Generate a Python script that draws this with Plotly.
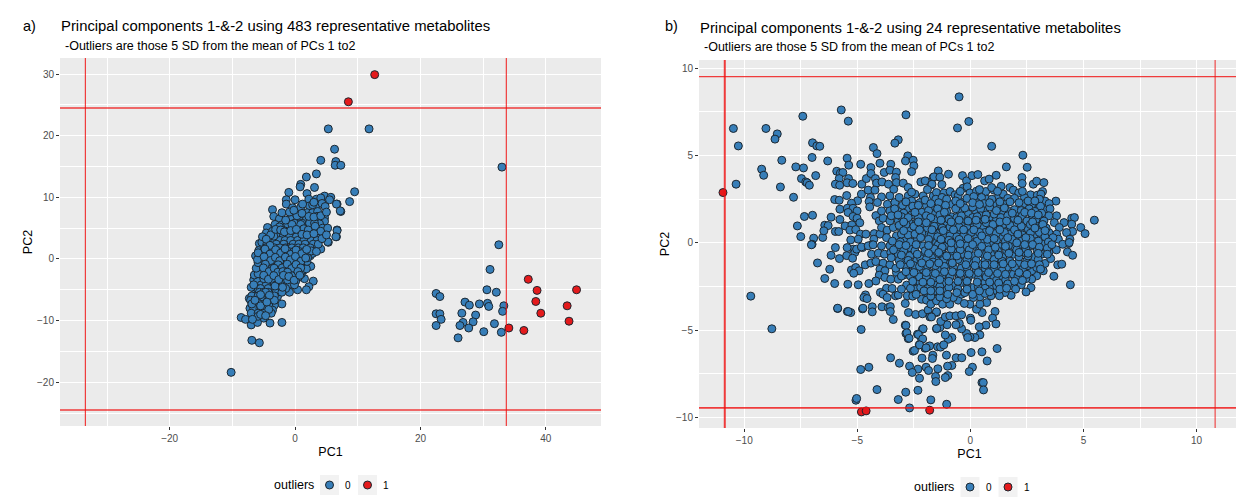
import plotly.graph_objects as go

a_normal = [
(5.3,21.1),(6.3,17.8),(4.1,16.0),(6.5,15.8),(6.4,15.2),(7.3,15.2),(3.4,13.8),(1.8,13.3),(0.9,12.1),(0.8,11.7),(3.1,11.6),(-1.0,10.8),(1.9,10.6),
(9.5,10.9),(8.7,9.3),(7.3,7.7),(6.7,8.9),(6.7,4.7),(6.6,3.6),(5.3,2.7),(11.8,21.1),(33.0,14.9),(32.5,2.3),
(-1.4,9.6),(0,9.6),(2.2,9.7),(3.4,9.7),(4.7,10.2),(5.7,10.0),(4.1,9.9),(5.5,9.6),(6.6,8.9),(7.2,7.8),(-1.4,8.9),(-0.4,8.3),(0.9,8.4),(2.3,8.6),(3.5,8.8),(4.3,9.0),
(-3.6,8.0),(-3.4,6.9),(-2.5,6.5),(-2.1,7.5),(-0.6,7.1),(-0.9,7.6),(1.9,7.5),(2.8,7.5),(3.6,7.7),(4.7,6.7),(-0.6,6.4),(0.8,6.2),(1.8,6.4),(2.6,6.3),(3.5,6.9),(4.7,6.1),(3.9,5.7),
(0.4,5.4),(-0.1,5.2),(-1.7,5.2),(-0.8,4.9),(1.8,5.2),(2.8,5.0),(3.6,4.8),(-4.4,5.1),(-4.6,4.2),(-3.6,4.5),(-2.8,4.4),(-2.2,3.8),(-1.2,4.0),(-0.1,4.3),(0.7,4.5),(1.5,4.2),(2.6,4.5),(4.4,5.0),(6.7,4.6),(6.5,3.6),(4.7,4.1),(3.8,3.9),
(5.2,2.8),(4.1,1.6),(3.2,2.3),(-5.7,2.5),(-5.3,2.7),(-5.8,1.35),(-6.3,0.5),(-4.9,1.0),(-3.8,1.35),(-3.6,2.5),(-2.4,3.7),(-1.3,3.2),(-2.2,2.3),(-1.2,1.5),(-0.1,1.7),(0.85,2.9),(1.0,1.7),(2.1,3.6),(2.1,2.0),(3.1,2.2),(2.4,0.5),(2.8,0.9),
(0.95,-0.8),(2.4,-1.2),(-4.9,-1.0),(-4.8,-0.2),(-3.6,-1.2),(-2.6,0),(-1.7,-0.4),(-0.6,0.1),(-1.0,-2.2),(0.3,-2.7),(-3.6,-2.5),(-4.7,-2.3),(-6.6,-3.4),(-5.7,-3.4),(-4.9,-3.6),(-3.8,-4.2),(-2.6,-3.6),(-1.7,-4.2),(-0.6,-4.2),(1.5,-3.2),(2.9,-3.6),(2.2,-4.5),(1.8,-5.0),(0.4,-5.0),(-0.9,-5.4),(-2.2,-5.0),(-3.6,-5.3),(-4.9,-4.9),(-6.1,-4.4),(-6.3,-5.4),(-7.3,-6.4),(-6.6,-6.1),(-5.2,-6.4),(-3.8,-6.6),(-2.8,-6.1),(-2.1,-7.3),(-3.3,-7.5),(-4.2,-7.5),(-5.4,-8.2),(-6.2,-7.5),(-7.2,-8.0),(-3.6,-8.3),(-5.0,-9.6),(-6.5,-9.5),(-7.0,-10.7),(-6.0,-10.3),(-8.6,-9.5),(-7.9,-9.8),(-4.0,-10.4),(-2.1,-10.3),(-6.9,-13.2),(-5.7,-13.6),(-10.2,-18.4),(2.5,-1.2),
(-3.6,3.6),(-2.9,3.6),(-1.9,3.6),(-0.9,3.6),(0.2,3.6),(1.2,3.6),(3.0,3.6),(3.8,3.6),
(-4.2,3.0),(-3.2,3.0),(-2.4,3.0),(-1.6,3.0),(-0.7,3.0),(0.4,3.0),(1.4,3.0),(2.6,3.0),(3.5,3.0),
(-4.5,2.4),(-3.0,2.4),(-1.8,2.4),(-0.3,2.4),(0.6,2.4),(1.6,2.4),(2.9,2.4),(3.7,2.4),
(-4.7,1.8),(-3.3,1.8),(-2.4,1.8),(-1.5,1.8),(-0.5,1.8),(0.5,1.8),(1.3,1.8),(2.4,1.8),
(-5.1,1.2),(-4.3,1.2),(-3.5,1.2),(-2.7,1.2),(-1.9,1.2),(-1.0,1.2),(-0.2,1.2),(0.7,1.2),(1.5,1.2),(2.2,1.2),
(-5.4,0.6),(-4.6,0.6),(-3.7,0.6),(-3.0,0.6),(-2.2,0.6),(-1.4,0.6),(-0.6,0.6),(0.3,0.6),(1.1,0.6),(1.9,0.6),
(-5.1,0),(-4.2,0),(-3.4,0),(-2.7,0),(-1.9,0),(-1.1,0),(-0.3,0),(0.6,0),(1.3,0),
(-5.2,-0.6),(-4.4,-0.6),(-3.8,-0.6),(-3.0,-0.6),(-2.3,-0.6),(-1.5,-0.6),(-0.8,-0.6),(-0.1,-0.6),(0.7,-0.6),(1.5,-0.6),
(-5.3,-1.2),(-4.4,-1.2),(-3.0,-1.2),(-2.4,-1.2),(-1.7,-1.2),(-1.0,-1.2),(-0.3,-1.2),(0.4,-1.2),(1.1,-1.2),
(-5.5,-1.8),(-4.5,-1.8),(-3.8,-1.8),(-3.1,-1.8),(-2.4,-1.8),(-1.6,-1.8),(-0.9,-1.8),(-0.2,-1.8),(0.6,-1.8),(1.4,-1.8),
(-5.4,-2.4),(-4.6,-2.4),(-4.0,-2.4),(-3.2,-2.4),(-2.5,-2.4),(-1.6,-2.4),(-0.6,-2.4),(0.2,-2.4),(1.0,-2.4),
(-5.5,-3.0),(-4.4,-3.0),(-3.7,-3.0),(-3.0,-3.0),(-2.2,-3.0),(-1.3,-3.0),(-0.4,-3.0),(0.5,-3.0),
(-6.0,-3.6),(-4.2,-3.6),(-3.4,-3.6),(-1.9,-3.6),(-1.0,-3.6),(0.1,-3.6),
(-5.4,-4.2),(-4.6,-4.2),(-3.0,-4.2),(-2.4,-4.2),(-1.1,-4.2),(-0.1,-4.2),
(-6.0,-4.8),(-5.5,-4.8),(-4.3,-4.8),(-3.2,-4.8),(-2.7,-4.8),(-1.5,-4.8),
(-5.7,-5.4),(-5.0,-5.4),(-4.3,-5.4),(-3.0,-5.4),(-2.1,-5.4),
(-6.9,-6.0),(-5.9,-6.0),(-4.7,-6.0),(-3.3,-6.0),
(-7.1,-6.7),(-6.0,-6.7),(-5.0,-6.7),(-4.3,-6.7),(-3.3,-6.7),
(-6.8,-7.3),(-5.7,-7.3),(-4.8,-7.3),(-6.6,-8.0),(-5.6,-8.0),(-4.6,-8.0),
(-7.0,-8.8),(-5.9,-8.8),(-4.9,-8.8),(-3.8,-8.8),
(-1.3,5.8),(-0.1,5.8),(1.1,5.8),(2.3,5.8),(3.1,5.8),(-2.2,5.5),(-3.1,5.4),(-3.4,3.7),
(-3.2,5.6),(-2.5,5.2),(-1.2,5.7),(-0.5,5.6),(0.9,5.6),(1.4,4.9),(2.1,4.7),(3.2,5.3),(4.1,4.5),(5.2,5.0),(-3.9,3.9),(-3.1,4.8),(-2.3,4.7),(-1.7,4.4),(-0.7,4.6),(0.2,4.8),(1.1,4.0),(1.9,3.9),(3.0,4.1),(4.3,3.3),(5.0,3.9),(-5.2,3.6),(-4.6,3.2),(-4.0,2.2),
(0.3,7.0),(1.1,7.4),(2.2,6.9),(3.0,6.8),(4.1,7.0),(1.2,8.9),(2.8,8.8),(4.8,8.5),(3.0,9.2),(5.0,7.6),(-1.5,6.3),(-0.2,7.9),
(-7.0,-4.6),(-6.9,-7.3),(-6.6,-4.2),(-6.5,-2.6),(-5.9,-2.4),(-5.0,-3.2),(-6.2,-1.5),(-5.9,-0.6),(-5.6,0.1),(-6.0,-0.1),(-5.9,1.0),(-4.7,-5.4),(-4.1,-5.9),(-5.5,-5.8),(-6.4,-6.7),(-5.5,-7.6),(-4.5,-7.0),(-5.9,-9.3),(-6.8,-9.8),(-5.5,-9.0),(-4.2,-8.2),(-4.7,-9.2),(-3.2,-4.4),(-2.0,-4.6),(-1.2,-3.4),(-0.3,-3.1),(0.9,-2.2),(1.8,-1.6),(1.9,-0.4),(2.0,0.2),(2.6,1.3),(3.4,1.2),
(-4.8,1.6),(-4.0,0.8),(-3.1,1.5),(-2.3,0.95),(-1.6,1.65),(-0.7,0.75),(0.15,1.45),(1.05,0.85),(1.85,1.55),(-4.95,0.35),(-3.9,-0.25),(-3.15,0.25),(-2.45,-0.3),(-1.55,0.3),(-0.75,-0.15),(0.05,0.4),(0.95,-0.35),(1.7,0.15),
(-4.75,-0.85),(-3.65,-1.55),(-2.7,-0.95),(-2.05,-1.45),(-1.25,-0.85),(-0.55,-1.55),(0.15,-0.9),(0.9,-1.45),(-5.05,-1.45),(-4.15,-2.05),(-3.35,-1.5),(-2.75,-2.15),(-1.95,-2.05),(-1.2,-2.15),(-0.45,-2.75),(0.45,-2.05),(-5.0,-2.65),(-4.25,-3.3),(-3.4,-2.7),(-2.6,-3.35),(-1.85,-2.65),(-1.0,-2.85),(-0.15,-3.45),(0.75,-2.65),
(31.1,-1.7),(30.6,-5.0),(32.1,-5.4),(22.5,-5.6),(23.1,-6.1),(27.1,-7.0),(27.8,-7.5),(29.4,-7.3),(30.7,-7.2),(30.9,-7.7),(33.3,-7.6),(33.1,-8.5),(22.5,-8.9),(23.1,-8.9),(23.3,-9.8),(26.6,-8.8),(28.8,-9.1),(22.5,-10.8),(26.8,-10.3),(26.3,-10.8),(28.4,-10.2),(27.7,-11.2),(31.8,-10.5),(30.1,-11.8),(32.9,-11.9),(26.0,-12.8),
]
a_outlier = [(12.7,29.9),(8.5,25.5),(34.1,-11.2),(36.5,-11.6),(37.2,-3.3),(38.6,-5.1),(38.4,-6.9),(39.2,-8.8),(44.9,-5.0),(43.4,-7.6),(43.7,-10.1)]
b_normal = [
(-10.48,6.55),(-10.26,5.55),(-10.36,3.36),(-9.04,6.55),(-8.54,6.24),(-8.64,5.94),(-8.34,4.73),(-9.23,4.22),(-9.14,3.87),(-8.4,3.2),(-7.82,2.61),(-7.41,7.25),(-5.71,7.61),(-5.4,6.97),(-2.85,7.33),(-0.5,8.36),(-0.57,6.58),(-0.07,6.95),(-3.19,5.9),(-3.34,5.71),(-4.29,5.46),(-4.13,5.11),(-6.98,5.73),(-6.79,5.55),(-6.66,5.53),(-7.0,4.89),(-6.31,4.69),
(-7.72,4.35),(-7.38,4.29),(-7.47,3.68),(-7.28,3.49),(-7.22,3.44),(-7.12,3.3),(-6.84,3.85),(-7.34,1.51),(-6.98,1.58),(-7.65,0.97),(-7.5,0.36),(-6.93,0.27),(-6.53,0.31),(-7.0,-0.08),
(-5.45,4.85),(-5.38,4.45),(-4.85,4.5),(-4.4,4.31),(-4.0,4.56),(-3.52,4.5),(-2.77,4.98),(-2.87,4.69),(-2.53,4.73),(-2.5,4.41),(-2.6,4.08),(-5.91,4.1),(-5.75,3.99),(-5.64,4.03),(-5.8,3.68),(-5.97,3.36),(-5.78,3.3),(-5.39,3.68),(-5.45,3.44),(-5.2,3.4),(-4.8,3.36),(-4.6,3.68),(-4.4,3.97),(-4.2,3.68),(-4.15,3.42),(-3.81,4.03),(-3.56,4.16),(-3.27,4.05),(-3.31,3.74),(-3.91,3.49),(-3.62,3.36),(-3.27,3.45),(-2.97,3.42),(-3.39,3.07),(-2.75,3.17),(-2.19,3.49),(-2.0,3.55),(-1.65,3.74),(-1.42,3.84),(-1.72,3.32),
(-5.47,2.71),(-6.0,2.48),(-5.8,2.44),(-4.99,2.41),(-4.82,2.79),(-4.52,3.02),(-4.22,3.02),(-3.93,2.63),(-3.56,2.69),(-4.42,2.6),(-4.48,2.37),(-5.26,2.27),(-5.77,1.93),(-5.44,1.98),(-5.19,1.98),(-5.41,1.74),(-5.01,1.83),(-4.45,2.06),(-4.11,2.31),(-3.67,2.21),(-3.34,2.31),(-3.15,2.6),(-2.75,2.69),(-2.45,2.79),(-2.09,2.69),(-1.64,2.69),
(-6.16,1.47),(-5.77,1.34),(-5.19,1.51),(-5.01,1.41),(-4.89,1.15),(-4.18,1.56),(-4.03,1.26),(-3.86,1.41),(-6.44,1.01),(-6.29,0.99),(-6.48,0.69),(-5.97,0.65),(-5.82,0.65),(-5.54,0.97),(-5.24,1.03),(-5.33,0.73),(-5.07,0.76),(-4.86,0.5),(-4.96,0.21),(-5.29,0.17),(-4.62,0.5),(-4.25,0.53),(-4.0,0.5),(-4.27,0.21),(-3.93,0.88),(-3.68,0.73),(-3.41,0.88),(-3.19,1.26),(-2.9,1.35),(-2.7,1.16),(-2.38,1.16),(-3.56,1.26),(-3.05,0.78),(-2.68,0.69),(-2.38,0.78),(-2.09,1.35),(-1.79,1.16),(-1.5,1.26),(-1.5,0.69),(-3.27,0.4),(-3.71,0.3),(-2.9,0.21),(-2.38,0.11),(-1.94,0.5),
(-5.97,-0.27),(-5.18,-0.36),(-4.77,-0.27),(-4.36,-0.11),(-3.93,-0.17),(-3.56,-0.17),(-3.19,-0.27),(-2.68,-0.27),(-2.09,-0.17),(-1.64,-0.08),(-2.23,2.31),(-2.38,1.93),(-1.94,2.12),(-1.64,1.93),(-2.82,1.93),(-3.19,1.83),(-3.56,1.83),(-3.93,1.83),
(0.94,5.53),(2.32,5.02),(1.59,4.35),(2.51,4.33),(-1.42,4.12),(-0.97,3.93),(-1.61,3.78),(-1.35,3.76),(-1.26,3.34),(-1.7,3.36),(-0.35,3.85),(-0.17,3.55),(0.07,3.85),(0.33,3.91),(0.63,3.55),(0.83,3.65),(1.14,3.87),(2.28,3.74),(2.29,3.4),(1.36,3.24),(1.75,3.17),(2.78,3.36),(2.93,3.53),(3.25,3.45),(3.19,2.94),(-0.32,3.13),(-0.14,3.21),(-1.5,2.88),(-1.17,2.86),(-0.9,2.94),(-0.68,2.75),(-0.02,2.86),(0.27,2.96),(0.68,2.94),(1.04,3.02),(0.94,3.17),(1.9,3.02),(2.14,2.86),(2.66,2.75),(2.96,2.73),(3.12,2.79),(3.78,2.39),(3.3,2.39),(2.39,2.6),(2.41,2.25),(2.96,2.25),(3.3,1.89),(3.48,2.25),(3.52,1.95),(3.81,1.55),(3.71,1.16),(3.47,1.55),(4.48,1.41),(4.6,1.45),(5.48,1.3),(4.14,1.16),(4.48,1.07),(4.88,0.88),(5.07,0.53),(4.52,0.65),(4.25,0.59),(3.93,0.88),(3.81,0.5),(3.47,0.59),(4.4,0.21),(4.34,-0.04),(3.89,0.21),(3.3,-0.17),(4.08,-0.08),(3.15,0.97),(2.85,1.11),(3.07,1.45),(2.71,1.41),(2.41,1.07),(2.07,1.64),(1.77,1.3),(1.75,1.79),(1.42,1.74),(1.23,2.02),(1.01,2.21),(1.23,2.6),(1.45,2.79),(0.72,2.5),(0.49,2.6),(0.27,2.31),(-0.32,2.31),(-0.54,2.69),(-0.83,2.21),(-1.23,2.06),(-1.53,2.5),(-1.72,2.12),(-0.47,1.74),(-0.83,1.49),(-1.2,1.45),(-1.57,1.64),(-0.09,1.64),(0.27,1.74),(0.64,1.83),(0.86,1.49),(1.16,1.35),(0.42,1.3),(0.05,1.16),(-0.32,1.07),(-0.69,1.16),(-1.05,1.07),(-1.42,1.16),(-1.72,1.07),(0.86,0.97),(0.54,0.88),(0.13,0.88),(1.23,0.78),(1.63,0.73),(2.04,1.07),(2.19,0.69),(2.56,0.78),(2.85,0.5),(3.15,0.31),(2.49,0.11),(2.04,0.31),(1.75,0.5),(1.38,0.34),(1.01,0.5),(0.64,0.59),(0.27,0.4),(-0.17,0.59),(-0.47,0.69),(-0.76,0.59),(-1.05,0.59),(-1.35,0.59),(-1.64,0.59),(0.57,0.02),(0.05,0.02),(-0.32,0.11),(-0.76,0.11),(-1.13,0.02),(-1.5,0.02),(0.94,-0.08),(1.38,-0.17),(1.9,-0.17),(2.85,-0.17),
(-7.03,-0.11),(-5.45,-0.27),(-5.11,-0.55),(-5.03,-0.36),(-4.82,-0.23),(-4.52,-0.17),(-4.3,-0.11),(-6.16,-0.71),(-5.79,-0.9),(-5.47,-0.73),(-5.21,-0.88),(-6.76,-1.15),(-6.22,-1.51),(-6.44,-2.04),(-6.0,-2.33),(-5.42,-2.37),(-4.96,-2.4),(-4.49,-2.33),(-5.26,-1.55),(-5.07,-1.41),(-4.92,-1.6),(-5.16,-1.74),(-4.65,-1.26),(-4.4,-1.16),(-4.18,-1.07),(-4.37,-0.65),(-4.07,-0.59),(-3.8,-0.65),(-3.52,-0.55),(-3.19,-0.65),(-3.86,-1.16),(-3.56,-1.26),(-4.0,-1.51),(-3.78,-1.6),(-4.03,-1.85),(-4.18,-2.18),(-3.78,-1.98),(-3.52,-2.08),(-3.71,-2.6),(-3.46,-2.61),(-3.98,-2.84),(-3.86,-2.94),(-3.68,-3.13),(-3.31,-3.03),(-3.19,-2.98),(-2.79,-3.03),(-4.64,-2.98),(-4.71,-3.13),(-4.57,-3.19),(-5.87,-3.76),(-5.44,-3.93),(-5.29,-3.99),(-4.77,-3.78),(-4.34,-3.66),(-4.34,-3.95),(-3.91,-3.66),(-3.63,-3.7),(-3.54,-3.65),(-3.54,-3.93),(-3.41,-4.39),(-4.83,-4.96),(-8.78,-4.92),(-9.71,-3.05),(-2.88,-3.47),(-2.74,-3.99),(-2.42,-4.1),(-2.12,-4.06),(-1.87,-3.85),(-1.79,-4.24),(-1.5,-3.99),(-2.88,-4.71),(-2.85,-5.19),(-2.75,-5.48),(-2.12,-4.94),(-2.34,-5.23),(-2.16,-5.52),(-1.5,-4.92),(-2.53,-6.2),(-2.26,-5.84),(-2.01,-6.03),(-1.83,-5.92),(-1.45,-5.95),
(-2.97,-1.03),(-2.68,-0.74),(-2.38,-1.03),(-2.09,-0.74),(-1.79,-1.03),(-1.5,-0.74),(-2.93,-1.83),(-2.68,-1.51),(-2.38,-1.7),(-2.09,-1.51),(-1.79,-1.7),(-1.42,-1.56),(-2.82,-2.42),(-3.05,-2.65),(-2.5,-2.21),(-2.23,-2.27),(-1.94,-2.18),(-1.5,-2.37),(-2.38,-2.65),(-1.94,-2.84),(-1.64,-2.84),(-2.16,-3.23),(-1.94,-3.28),(-1.75,-3.51),(-1.5,-3.32),(-2.68,-0.27),(-3.27,-1.7),(-3.19,-2.08),
(4.37,0.02),(4.29,-0.52),(4.52,-0.71),(3.86,-1.26),(4.04,-1.22),(3.69,-1.91),(4.42,-2.4),(3.47,-0.55),(3.3,-1.18),(3.22,-1.6),(2.93,-1.89),(2.71,-2.08),(2.68,-2.56),(2.46,-2.81),(2.07,-2.27),(1.8,-3.0),(1.53,-2.84),(1.28,-3.03),(1.01,-2.75),(0.72,-3.42),(0.52,-3.99),(0.91,-3.03),(0.27,-3.8),(0.42,-3.51),(-0.02,-3.51),(1.09,-3.93),(0.98,-4.31),(1.13,-4.64),(0.69,-4.71),(0.39,-4.81),(0.42,-5.27),(0.2,-5.42),(-0.02,-5.38),(0,-4.31),(0.02,-4.43),(-0.17,-5.19),(-0.12,-5.42),(-0.82,-5.42),(-0.98,-5.52),(-1.11,-5.27),(-0.39,-4.92),(-0.49,-4.62),(-0.64,-4.69),(-1.03,-4.69),(-1.35,-4.85),(-1.49,-4.9),(-1.31,-4.5),(-1.11,-4.24),(-0.91,-4.18),(-0.64,-4.18),(-0.39,-4.12),(-1.5,-3.95),(-1.72,-4.24),(-1.23,-3.51),(-0.91,-3.51),(-0.54,-3.28),(-0.27,-3.47),(-1.57,-2.75),(-1.13,-2.75),(-0.76,-3.13),(-0.39,-2.94),(0.05,-2.56),(0.42,-3.09),(0.13,-3.13),(0.64,-2.27),(0.86,-2.56),(1.16,-2.46),(-0.39,-2.27),(-0.76,-2.46),(-1.13,-2.27),(-1.57,-2.27),(-1.72,-1.79),(-1.35,-1.51),(-0.98,-1.22),(-0.61,-1.7),(-0.24,-1.7),(0.13,-1.79),(0.57,-1.7),(0.93,-1.98),(1.38,-1.98),(1.75,-1.79),(2.31,-1.51),(2.71,-1.6),(2.93,-1.41),(1.6,-1.41),(1.23,-1.32),(0.86,-1.22),(0.42,-1.22),(0.05,-1.13),(-0.39,-1.13),(-1.5,-1.03),(-1.72,-0.84),(-1.2,-0.65),(-0.76,-0.55),(-0.32,-0.65),(0.13,-0.74),(0.57,-0.65),(1.01,-0.55),(1.45,-0.74),(1.9,-0.65),(2.34,-0.55),(2.78,-0.84),(3.15,-0.65),(3.22,-0.08),(2.63,-0.17),(2.12,-0.17),(1.68,-0.17),(1.23,-0.17),(0.72,-0.17),(0.27,-0.23),(-0.17,-0.17),(-0.61,-0.11),(-1.05,-0.17),(-1.42,-0.11),(2.12,-1.13),(2.49,-1.03),(1.9,-1.79),
(1.18,-6.05),(0.51,-6.24),(0.03,-6.28),(0.74,-6.76),(-0.63,-6.58),(-0.38,-6.58),(-1.06,-6.43),(-1.66,-6.43),(-1.68,-6.62),(-2.14,-6.6),(-3.53,-6.58),(-3.14,-6.89),(-2.69,-7.06),(-0.82,-7.02),(-1.01,-7.06),(-1.96,-7.12),(-2.32,-7.23),(-1.85,-7.31),(-1.44,-7.21),(0.09,-7.12),(-0.05,-7.37),(-2.57,-7.42),(-2.25,-7.75),(-1.54,-7.65),(-1.53,-7.94),(-1.0,-7.6),(-1.11,-7.71),(-4.49,-7.12),(-4.85,-7.25),(0.51,-8.0),(0.57,-8.0),(0.58,-8.42),(-4.13,-8.4),(-2.32,-8.44),(-2.86,-8.55),(-3.19,-8.97),(-1.75,-8.99),(-5.06,-9.01),(-5.03,-8.91),(-2.69,-9.45),(-1.05,-9.24),
(-5.87,-3.74),(-5.4,-3.93),(-4.75,-3.74),(-2.85,-4.73),(-2.81,-5.15),(-2.71,-5.46),(-2.09,-4.92),(-2.3,-5.25),(-2.11,-5.5),(-2.47,-6.16),(-2.25,-5.84),(-1.8,-5.9),(-1.96,-6.01),(-1.32,-5.97),(-1.18,-5.84),
(-2.6,2.9),(-1.9,3.05),(-1.25,2.6),(-0.45,2.95),(0.4,3.05),(1.2,2.95),(1.65,2.55),(2.3,2.95),(3.05,2.5),
(-3.0,2.15),(-2.6,2.4),(-2.0,2.45),(-1.4,2.3),(-1.05,2.5),(-0.65,2.4),(-0.15,2.55),(0.15,2.65),(0.6,2.25),(0.95,2.5),(1.55,2.2),(1.95,2.55),(2.15,2.3),(2.7,2.15),(3.1,2.1),
(-3.35,1.95),(-2.95,1.7),(-2.55,2.1),(-2.15,1.75),(-1.85,1.85),(-1.45,1.95),(-1.05,1.8),(-0.65,1.95),(-0.25,2.0),(0.1,2.05),(0.45,1.95),(0.85,2.05),(1.5,2.0),(1.95,1.9),(2.25,1.85),(2.6,1.95),(2.85,1.8),(3.15,1.7),
(-3.5,1.55),(-3.05,1.5),(-2.6,1.6),(-2.3,1.45),(-1.95,1.55),(-1.6,1.35),(-1.35,1.6),(-0.95,1.35),(-0.6,1.45),(-0.25,1.35),(0.1,1.45),(0.45,1.55),(1.05,1.65),(1.35,1.45),(1.65,1.55),(1.95,1.4),(2.3,1.55),(2.5,1.25),(2.9,1.35),(3.25,1.25),
(-3.15,1.0),(-2.85,1.05),(-2.5,0.95),(-2.15,1.0),(-1.9,0.85),(-1.6,0.95),(-1.25,0.85),(-0.9,0.9),(-0.5,0.9),(-0.15,0.85),(0.3,1.05),(0.7,1.15),(1.0,1.05),(1.45,1.05),(1.75,1.0),(2.25,0.95),(2.65,1.05),(3.0,0.8),(3.35,0.85),
(-3.05,0.5),(-2.75,0.45),(-2.45,0.5),(-2.15,0.55),(-1.75,0.4),(-1.45,0.35),(-1.15,0.35),(-0.9,0.4),(-0.6,0.35),(-0.3,0.4),(0.05,0.6),(0.4,0.6),(0.85,0.7),(1.15,0.55),(1.5,0.6),(1.95,0.75),(2.3,0.45),(2.65,0.55),(3.05,0.6),(3.3,0.35),(3.65,0.3),
(-3.45,0.1),(-3.1,0.05),(-2.65,0.05),(-2.2,0.3),(-1.85,0.2),(-1.3,0.2),(-0.95,0.15),(-0.5,0.2),(-0.1,0.25),(0.3,0.1),(0.75,0.2),(1.15,0.15),(1.55,0.1),(1.85,0.2),(2.25,0.1),(2.65,0.25),(3.0,0.1),(3.45,0.05),
(-3.4,-0.4),(-2.95,-0.45),(-2.45,-0.45),(-2.0,-0.45),(-1.6,-0.35),(-1.25,-0.35),(-0.85,-0.35),(-0.45,-0.4),(-0.05,-0.4),(0.4,-0.45),(0.8,-0.4),(1.2,-0.45),(1.6,-0.45),(2.05,-0.4),(2.45,-0.35),(2.95,-0.45),(3.4,-0.3),(3.8,-0.4),
(-3.5,-0.85),(-3.15,-1.0),(-2.75,-1.0),(-2.2,-0.9),(-1.95,-0.95),(-1.65,-1.1),(-1.2,-1.0),(-0.8,-0.9),(-0.55,-0.95),(-0.15,-0.95),(0.25,-1.0),(0.65,-1.0),(1.05,-0.95),(1.4,-1.05),(1.75,-1.05),(2.15,-0.8),(2.55,-0.75),(3.0,-0.95),(3.55,-0.9),
(-3.3,-1.45),(-2.85,-1.4),(-2.5,-1.3),(-2.25,-1.35),(-1.9,-1.3),(-1.55,-1.3),(-1.15,-1.35),(-0.75,-1.4),(-0.4,-1.45),(-0.15,-1.4),(0.25,-1.5),(0.65,-1.45),(1.05,-1.5),(1.4,-1.6),(1.95,-1.4),(2.55,-1.3),(3.05,-1.25),
(-3.05,-1.9),(-2.65,-1.9),(-2.25,-1.95),(-1.95,-1.95),(-1.6,-2.0),(-1.25,-1.85),(-0.9,-1.95),(-0.5,-2.0),(-0.1,-2.0),(0.35,-2.05),(0.7,-1.95),(1.15,-2.15),(1.55,-2.15),(2.1,-1.9),(2.45,-2.05),
(-2.65,-2.6),(-2.2,-2.55),(-1.8,-2.5),(-1.35,-2.5),(-0.95,-2.55),(-0.55,-2.65),(-0.15,-2.4),(0.35,-2.5),(0.65,-2.6),(1.4,-2.5),(1.85,-2.45),(2.25,-2.4),
(-2.55,-3.05),(-1.75,-3.05),(-1.35,-3.1),(-1.05,-3.2),(-0.25,-2.85),(0.1,-2.95),(0.65,-2.9),
(-2.85,2.35),(-2.3,2.15),(-1.75,2.25),(-1.1,2.15),(-0.45,2.25),(0.1,2.3),(0.4,2.2),(0.85,2.3),(1.3,2.35),(1.75,2.35),(2.55,2.4),(2.85,2.4),
(-3.2,1.6),(-2.75,1.45),(-2.45,1.75),(-1.75,1.45),(-1.15,1.75),(-0.4,1.55),(0.3,1.5),(0.7,1.6),(1.15,1.85),(1.85,1.7),(2.4,1.75),(2.7,1.7),(3.0,1.6),
(-2.95,1.2),(-2.3,1.2),(-1.95,1.15),(-1.3,1.3),(-0.85,1.2),(-0.5,1.3),(-0.1,1.25),(0.25,1.3),(0.65,1.35),(1.3,1.2),(1.6,1.25),(2.1,1.3),(2.75,1.2),(3.2,1.05),
(-2.95,0.7),(-2.25,0.75),(-1.7,0.75),(-1.2,0.7),(-0.75,0.75),(-0.3,0.75),(0.15,0.75),(0.5,0.4),(1.05,0.25),(1.3,0.75),(1.65,0.3),(2.1,0.5),(2.45,0.3),(2.85,0.85),(3.3,0.7),
(-3.15,-0.1),(-2.85,-0.15),(-2.4,-0.1),(-1.85,-0.15),(-1.25,-0.25),(-0.85,0.0),(-0.45,-0.05),(0.1,-0.1),(0.5,-0.2),(1.1,-0.25),(1.55,-0.2),(2.05,0.0),(2.4,-0.1),(2.75,-0.1),(3.05,-0.25),(3.6,-0.1),
(-3.05,-0.7),(-2.35,-0.65),(-1.85,-0.6),(-1.4,-0.55),(-1.05,-0.75),(-0.6,-0.75),(-0.1,-0.7),(0.35,-0.6),(0.75,-0.75),(1.25,-0.7),(1.7,-0.6),(2.15,-0.55),(2.55,-0.6),(3.0,-0.6),(3.4,-0.65),
(-3.1,-1.25),(-2.65,-1.2),(-2.15,-1.15),(-1.8,-1.2),(-1.4,-1.15),(-0.8,-1.15),(-0.2,-1.25),(0.2,-1.3),(0.65,-1.25),(1.05,-1.25),(1.45,-1.2),(1.85,-1.2),(2.4,-1.25),(2.7,-1.2),(3.1,-1.5),
(-2.85,-1.65),(-2.5,-1.7),(-1.95,-1.7),(-1.55,-1.75),(-1.15,-1.65),(-0.8,-1.65),(-0.45,-1.75),(-0.05,-1.75),(0.35,-1.7),(0.8,-1.7),(1.2,-1.75),(1.55,-1.8),(2.15,-1.7),(2.5,-1.8),
(-2.55,-2.2),(-2.1,-2.25),(-1.75,-2.25),(-1.35,-2.1),(-0.95,-2.2),(-0.55,-2.2),(-0.15,-2.2),(0.3,-2.25),(0.85,-2.25),(1.25,-2.3),(1.65,-2.35),(1.95,-2.2),(2.3,-2.15),
(-2.4,-2.95),(-2.05,-2.75),(-1.75,-2.75),(-1.35,-2.75),(-1.0,-2.95),(-0.6,-2.85),(-0.15,-2.65),(0.4,-2.75),(0.85,-2.8),(1.3,-2.65),(1.6,-2.6),(2.0,-2.65),
]
b_outlier = [(-10.94,2.88),(-4.82,-9.68),(-4.61,-9.62),(-1.8,-9.58)]

a_vlines = [-33.45, 33.7]
a_hlines = [24.5, -24.5]
b_vlines = [-10.86, 10.82]
b_hlines = [9.52, -9.45]

a_title = "Principal components 1-&-2 using 483 representative metabolites"
b_title = "Principal components 1-&-2 using 24 representative metabolites"
subtitle = "-Outliers are those 5 SD from the mean of PCs 1 to2"
legend_title = "outliers"
legend_labels = ["0", "1"]
BLUE, RED = "#377EB8", "#E41A1C"
legend_colors = [BLUE, RED]
FONT = "Liberation Sans"
OUTLINE = "#1c2730"
PAGE = 8                 # the page's body margin
W, H = 1244 - PAGE, 500 - PAGE
def X(px): return (px - PAGE) / W
def Y(py): return 1 - (py - PAGE) / H

fig = go.Figure()
def add(points, name, color, xa, ya):
    fig.add_trace(go.Scatter(x=[p[0] for p in points], y=[p[1] for p in points], mode="markers", name=name,
        xaxis=xa, yaxis=ya, showlegend=False,
        marker=dict(color=color, size=8, line=dict(color=OUTLINE, width=1))))
add(a_normal, "0", BLUE, "x", "y")
add(a_outlier, "1", RED, "x", "y")
add(b_normal, "0", BLUE, "x2", "y2")
add(b_outlier, "1", RED, "x2", "y2")

def axis(dom, rng, major, minor, title, anchor, standoff):
    return dict(domain=dom, range=rng, tickvals=major, anchor=anchor, showline=False, zeroline=False,
        gridcolor="white", gridwidth=1.4, ticks="outside", ticklen=3, tickcolor="#333333", tickwidth=1,
        tickfont=dict(family=FONT, size=10, color="#4D4D4D"),
        minor=dict(dtick=minor, tick0=0, showgrid=True, gridcolor="white", gridwidth=0.7, ticks=""),
        title=dict(text=title, font=dict(family=FONT, size=12.5, color="black"), standoff=standoff))

fig.update_layout(
    width=W, height=H, autosize=False, margin=dict(l=0, r=0, t=0, b=0),
    paper_bgcolor="white", plot_bgcolor="#EBEBEB", showlegend=False,
    font=dict(family=FONT, color="black"),
    xaxis=axis([X(60), X(601)], [-37.5, 48.8], [-20, 0, 20, 40], 10, "PC1", "y", 4),
    yaxis=axis([Y(426), Y(58)], [-27.1, 32.6], [-20, -10, 0, 10, 20, 30], 5, "PC2", "x", 1),
    xaxis2=axis([X(699), X(1240)], [-12.0, 11.92], [-10, -5, 0, 5, 10], 2.5, "PC1", "y2", 4),
    yaxis2=axis([Y(428), Y(60)], [-10.6, 10.47], [-10, -5, 0, 5, 10], 2.5, "PC2", "x2", 3),
)

def line(kind, v, xr, yr, w=1.2):
    d = dict(type="line", xref=xr, yref=yr, layer="above", line=dict(color="#F01010", width=w), opacity=0.8)
    if kind == "v":
        d.update(x0=v, x1=v, y0=0, y1=1, yref=yr + " domain")
    else:
        d.update(y0=v, y1=v, x0=0, x1=1, xref=xr + " domain")
    fig.add_shape(**d)
for v in a_vlines: line("v", v, "x", "y")
for v in a_hlines: line("h", v, "x", "y", 1.5)
for v, w in zip(b_vlines, [2, 1.1]): line("v", v, "x2", "y2", w)
for v, w in zip(b_hlines, [1.2, 1.7]): line("h", v, "x2", "y2", w)

def note(x, y, t, size, anchor="left"):
    fig.add_annotation(xref="paper", yref="paper", x=X(x), y=Y(y), text=t, showarrow=False, xanchor=anchor, yanchor="middle",
                       font=dict(family=FONT, size=size, color="black"))
note(21, 26, "a)", 14.5); note(59, 26, a_title, 14.85); note(63, 46, subtitle, 12.5)
note(663, 26, "b)", 14.5); note(698, 28, b_title, 14.85); note(702, 47, subtitle, 12.5)

def legend(title_x, key_centers, label_xs, cy):
    note(title_x, cy, legend_title, 12.5)
    for cx, lx, lab, col in zip(key_centers, label_xs, legend_labels, legend_colors):
        fig.add_shape(type="rect", xref="paper", yref="paper", x0=X(cx-9.5), x1=X(cx+9.5), y0=Y(cy+10), y1=Y(cy-10),
                      fillcolor="#F2F2F2", line=dict(width=0), layer="below")
        fig.add_shape(type="circle", xref="paper", yref="paper", x0=X(cx-4), x1=X(cx+4), y0=Y(cy+4), y1=Y(cy-4),
                      fillcolor=col, line=dict(color=OUTLINE, width=1))
        note(lx, cy, lab, 10, "center")
legend(272, [329.5, 367.5], [348, 386], 485)
legend(912, [970, 1008], [988.5, 1026.5], 487)

fig.write_html("out.html")
